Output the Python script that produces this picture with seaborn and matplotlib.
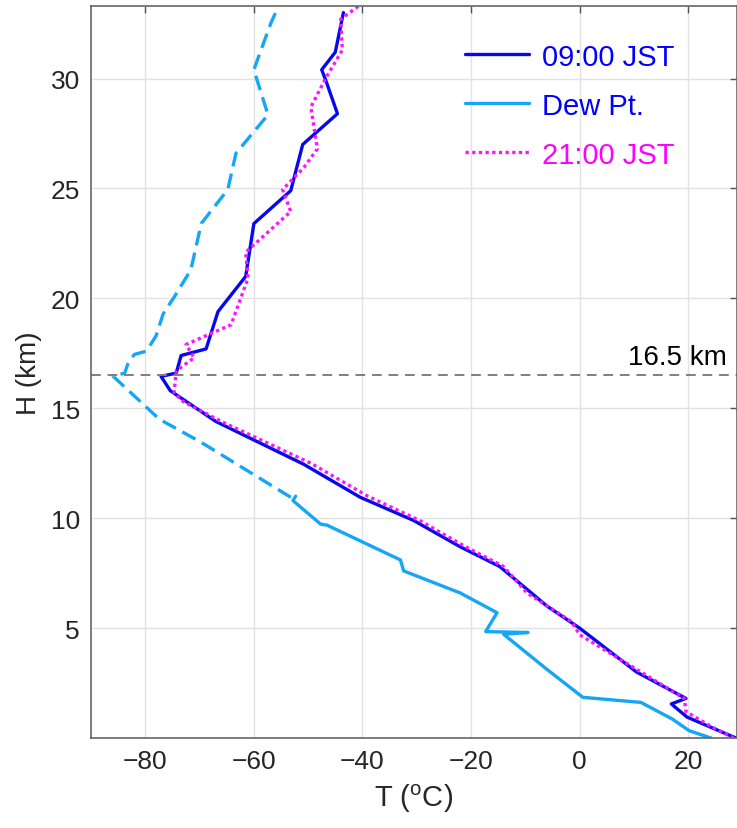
import numpy as np
import pandas as pd
import matplotlib
matplotlib.use("Agg")
import matplotlib.pyplot as plt
import seaborn as sns

# ---------------------------------------------------------------
# Perfis de temperatura
# ---------------------------------------------------------------
h_09 = [0, 0.95, 1.55, 1.8, 3.0, 5.0, 6.0, 7.8, 8.7, 9.9, 10.95, 12.45, 14.4,
        15.8, 16.45, 16.6, 17.4, 17.7, 19.4, 21.0, 23.4, 24.9, 27.0, 28.4,
        29.95, 30.4, 31.2, 33.0]
t_09 = [28.8, 19.8, 16.9, 19.6, 10.5, 0, -6, -14.7, -22, -30.6, -40.4, -50.8, -67,
        -75.4, -77.1, -74.3, -73.4, -68.8, -66.6, -61.5, -60, -53.2, -51, -44.6,
        -46.8, -47.5, -45, -43.5]

h_21 = [0, 0.5, 1.2, 1.8, 4.7, 5.3, 6.6, 7.8, 8.7, 9.9, 11.0, 12.5, 14.4, 15.3,
        15.7, 16.7, 17.3, 17.9, 18.8, 20.9, 22.1, 23.95, 24.95, 25.95, 26.8,
        28.7, 30.0, 31.3, 32.7, 33.3]
t_21 = [28.4, 24.4, 19.6, 19.3, 0, -1.5, -9.7, -14, -21, -29.5, -39, -49.5, -66,
        -73, -74.7, -74.3, -71, -72.5, -64.2, -61.1, -61.5, -53.2, -54.7, -50.8,
        -48.3, -49.5, -46.8, -43.7, -44, -40.7]

# ponto de orvalho: parte medida (sólida) e parte acima de ~11 km (tracejada)
h_dew = [0, 0.33, 0.86, 1.62, 1.85, 3.14, 4.72, 4.8, 4.84, 5.7, 6.6, 7.6, 8.1,
         9.68, 9.73, 10.8, 11.0]
t_dew = [24.2, 20.2, 17.1, 11.3, 0.6, -6.1, -14, -9.5, -17.3, -15.2, -22, -32.4,
         -33, -46.5, -47.7, -52.8, -52.3]

h_dew_hi = [10.95, 13.45, 14.5, 16.45, 16.6, 17.1, 17.45, 17.6, 18.3, 19.3,
            20.05, 21.3, 23.4, 24.95, 26.6, 28.35, 30.4, 32.5, 33.0]
t_dew_hi = [-53.2, -69.7, -77.4, -85.9, -83.8, -83.1, -82, -79.8, -78, -76.7,
            -74.7, -71.6, -69.7, -64.8, -63.3, -57.4, -60, -56.9, -56]

tropopausa = 16.5

C_09 = "#0808ee"
C_DEW = "#16a6f6"
C_21 = "#ff14ff"

sns.set_style("white")
plt.rcParams['font.family'] = ['Liberation Sans', 'DejaVu Sans']
plt.rcParams['mathtext.default'] = 'regular'

fig = plt.figure(figsize=(7.37, 8.29), dpi=100)
ax = fig.add_axes([91 / 737, 90 / 829, 646 / 737, 732 / 829])

ax.grid(True, color="#e2e2e2", linewidth=1.0)
ax.set_axisbelow(True)

sns.lineplot(x=t_09, y=h_09, sort=False, estimator=None, color=C_09,
             linewidth=2.4, ax=ax, label="09:00 JST")
sns.lineplot(x=t_dew, y=h_dew, sort=False, estimator=None, color=C_DEW,
             linewidth=2.4, ax=ax, label="Dew Pt.")
sns.lineplot(x=t_21, y=h_21, sort=False, estimator=None, color=C_21,
             linewidth=2.4, ax=ax, label="21:00 JST")
ax.lines[-1].set_linestyle((0, (1, 1)))
sns.lineplot(x=t_dew_hi, y=h_dew_hi, sort=False, estimator=None, color=C_DEW,
             linewidth=2.4, ax=ax)
ax.lines[-1].set_linestyle((0, (4.5, 2.2)))

ax.axhline(tropopausa, color="#7f7f7f", linewidth=1.4, linestyle=(0, (5, 3.5)))
ax.text(27.2, tropopausa + 0.22, "16.5 km", fontsize=20, ha="right", va="bottom",
        color="black")

ax.set_xlim(-90, 29)
ax.set_ylim(0, 33.3)
ax.set_xticks([-80, -60, -40, -20, 0, 20])
ax.set_yticks([5, 10, 15, 20, 25, 30])
ax.tick_params(direction="in", length=5, width=1, colors="#555555",
               labelcolor="#262626", labelsize=19, top=True, right=True, pad=8)
for s in ax.spines.values():
    s.set_color("#666666")
    s.set_linewidth(1.2)

ax.set_xlabel("T ($^{o}$C)", fontsize=21, color="#262626", labelpad=6)
ax.set_ylabel("H (km)", fontsize=20, color="#262626", labelpad=6)

leg = ax.legend(loc="upper left", frameon=False, fontsize=21, handlelength=2.2,
                handletextpad=0.45, labelspacing=0.72, borderpad=0,
                borderaxespad=0, bbox_to_anchor=((465 - 91) / 646, 0.95))
for txt, c in zip(leg.get_texts(), ["#0000ff", "#0000ff", "#ff00ff"]):
    txt.set_color(c)

fig.savefig("out.png", dpi=100)
